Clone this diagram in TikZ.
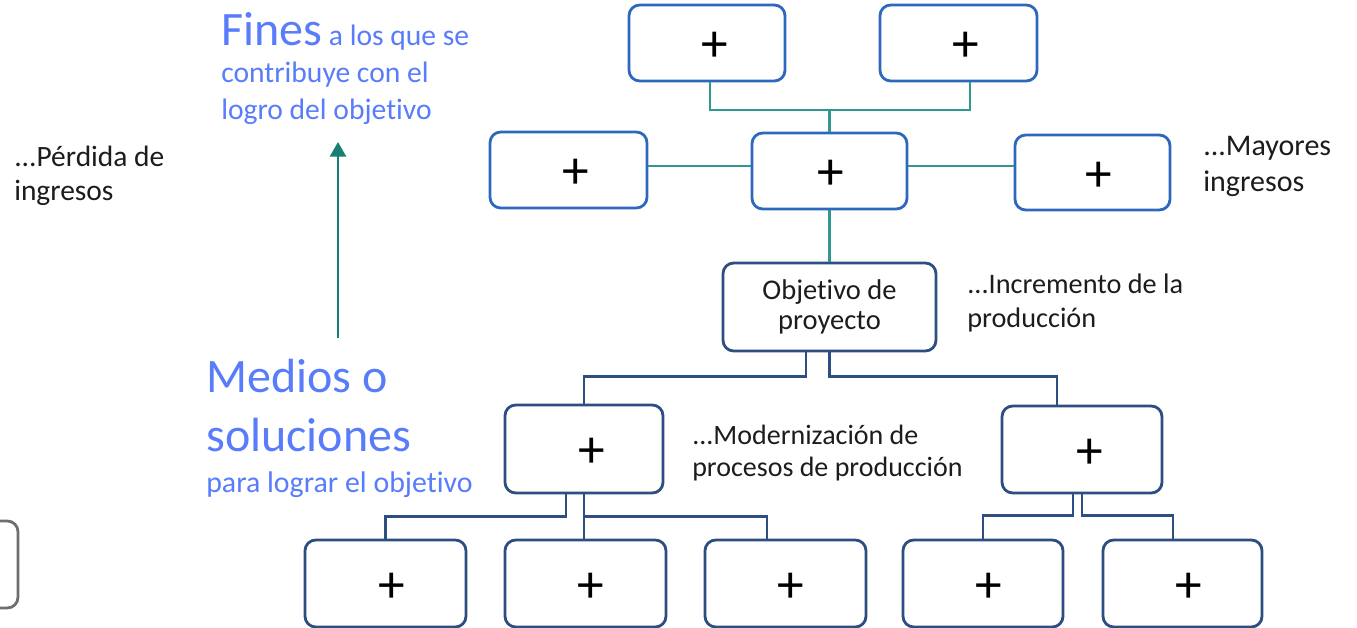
\documentclass[tikz,border=0pt]{standalone}
\usepackage{fontspec}
\setmainfont{Carlito}[Ligatures=NoCommon]
\usetikzlibrary{arrows.meta,calc}
\definecolor{bluetxt}{RGB}{88,124,250}
\definecolor{boxblue}{RGB}{46,104,190}
\definecolor{navy}{RGB}{44,78,128}
\definecolor{tealline}{RGB}{48,152,142}
\definecolor{tealarrow}{RGB}{22,128,116}
\definecolor{txtdark}{RGB}{28,28,28}
\definecolor{pgray}{RGB}{110,110,110}
\newcommand{\pl}[1]{\kern#1\smash{\raisebox{-3pt}{+}}\vphantom{+}}
\begin{document}
\begin{tikzpicture}[x=0.75pt,y=-0.75pt,
  ubox/.style={draw=boxblue, line width=2.1pt, rounded corners=8pt, fill=white, inner sep=0pt,
    text=black, font=\fontsize{40}{40}\selectfont},
  lbox/.style={draw=navy, line width=2.1pt, rounded corners=8pt, fill=white, inner sep=0pt,
    text=black, font=\fontsize{40}{40}\selectfont},
  tline/.style={draw=tealline, line width=1.9pt},
  nline/.style={draw=navy, line width=2.1pt},
  btxt/.style={text=txtdark, inner sep=0pt, align=left, anchor=base west},
  bluet/.style={text=bluetxt, inner sep=0pt, align=left, anchor=base west}
]
\useasboundingbox (0,0) rectangle (1357,628);

% upper boxes
\node[ubox, minimum width=156*0.75pt, minimum height=76*0.75pt] (A) at (707,43) {\pl{11.5pt}};
\node[ubox, minimum width=157*0.75pt, minimum height=76*0.75pt] (B) at (958.5,43) {\pl{11pt}};
\node[ubox, minimum width=157*0.75pt, minimum height=76*0.75pt] (C) at (568.5,170) {\pl{11pt}};
\node[ubox, minimum width=155*0.75pt, minimum height=76*0.75pt] (D) at (829.5,171) {\pl{1.5pt}};
\node[ubox, minimum width=155*0.75pt, minimum height=75*0.75pt] (E) at (1092.5,172.5) {\pl{9pt}};

% objective
\node[lbox, minimum width=213*0.75pt, minimum height=88*0.75pt, align=center,
  font=\fontsize{21.4}{22.5}\selectfont, text=txtdark] (Obj) at (829.5,307) {Objetivo de\\proyecto};

% second row
\node[lbox, minimum width=158*0.75pt, minimum height=88*0.75pt] (F) at (584,449) {\pl{11pt}};
\node[lbox, minimum width=160*0.75pt, minimum height=87*0.75pt] (G) at (1082,449.5) {\pl{12pt}};

% bottom row
\node[lbox, minimum width=161*0.75pt, minimum height=87*0.75pt] (b1) at (385.5,583.5) {\pl{9pt}};
\node[lbox, minimum width=161*0.75pt, minimum height=87*0.75pt] (b2) at (585.5,583.5) {\pl{8pt}};
\node[lbox, minimum width=161*0.75pt, minimum height=87*0.75pt] (b3) at (785.5,583.5) {\pl{8pt}};
\node[lbox, minimum width=160*0.75pt, minimum height=87*0.75pt] (b4) at (983,583.5) {\pl{9pt}};
\node[lbox, minimum width=159*0.75pt, minimum height=87*0.75pt] (b5) at (1182.5,583.5) {\pl{10pt}};

% partial box at left edge
\node[draw=pgray, line width=2.1pt, rounded corners=8pt, inner sep=0pt,
  minimum width=76*0.75pt, minimum height=87*0.75pt] (pbox) at (-20,564.5) {};

% teal connectors
\coordinate (j1) at (829.5,110);
\draw[tline] ($(A.south)+(3,0)$) |- (j1) -| ($(B.south)+(11.5,0)$);
\draw[tline] (j1) -- (D.north);
\draw[tline] ($(C.east)+(0,-4)$) -- ($(D.west)+(0,-5)$);
\draw[tline] ($(D.east)+(0,-5)$) -- ($(E.west)+(0,-6.5)$);
\draw[tline] (D.south) -- (Obj.north);

% navy connectors
\draw[nline] ($(Obj.south)+(-23.5,0)$) -- ++(0,24) -| (F.north);
\draw[nline] (Obj.south) -- ++(0,24) -| ($(G.north)+(-25,0)$);
\draw[nline] ($(F.south)+(-18,0)$) -- ++(0,22) -| (b1.north);
\draw[nline] (F.south) -- (F.south |- b2.north);
\draw[nline] ($(F.south)+(0,22)$) -| ($(b3.north)+(-18.5,0)$);
\draw[nline] ($(G.south)+(-9,0)$) -- ++(0,21) -| (b4.north);
\draw[nline] (G.south) -- ++(0,21) -| ($(b5.north)+(-9.5,0)$);

% side texts (anchor = baseline of last line)
\node[bluet, font=\fontsize{22.2}{27.5}\selectfont] (fines) at (221,119)
  {{\fontsize{36}{36}\selectfont Fines} a los que se\\contribuye con el\\logro del objetivo};
\node[bluet, font=\fontsize{36}{44.25}\selectfont] (medios) at (206,492)
  {Medios o\\soluciones\\[-13.5pt]{\fontsize{22.4}{26}\selectfont para lograr el objetivo}};
\node[btxt, font=\fontsize{22.1}{25.5}\selectfont] (perd) at (14,200) {...Pérdida de\\ingresos};
\node[btxt, font=\fontsize{22.5}{27}\selectfont] (mayor) at (1203,191) {...Mayores\\ingresos};
\node[btxt, font=\fontsize{21.2}{25.5}\selectfont] (incr) at (967,327) {...Incremento de la\\producción};
\node[btxt, font=\fontsize{21}{24}\selectfont] (moder) at (692,476) {...Modernización de\\procesos de producción};

% arrow
\coordinate (as) at (338,338);
\coordinate (ae) at (338,142);
\draw[draw=tealarrow, line width=2.1pt, -{Triangle[length=11pt,width=12pt]}] (as) -- (ae);
\end{tikzpicture}
\end{document}
